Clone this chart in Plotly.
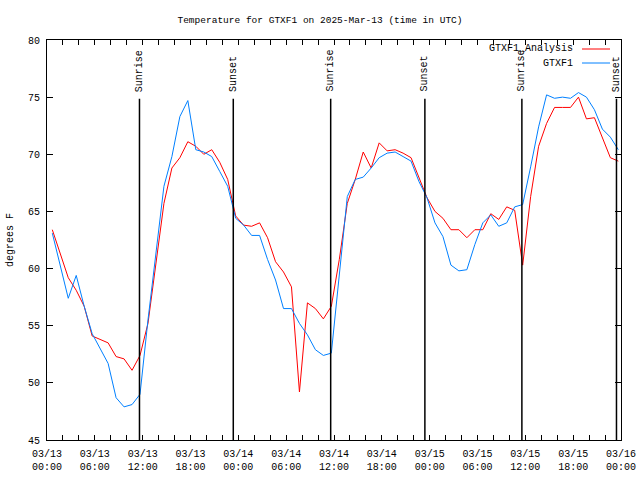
import plotly.graph_objects as go
import pandas as pd

# ---- data (hourly observations) ----
start_time = "2025-03-13 00:40"
analysis_f = [63.4, 61.2, 59.2, 58.1, 56.7, 54.1, 53.8, 53.5, 52.3, 52.1, 51.1, 52.4,
              55.2, 60.5, 65.7, 68.8, 69.7, 71.1, 70.7, 70.0, 70.4, 69.3, 67.8, 64.6,
              63.8, 63.7, 64.0, 62.7, 60.6, 59.7, 58.4, 49.2, 57.0, 56.5, 55.6, 56.7,
              60.8, 65.7, 67.8, 70.2, 68.8, 71.0, 70.3, 70.4, 70.1, 69.7, 67.9, 66.2,
              65.0, 64.4, 63.4, 63.4, 62.7, 63.4, 63.4, 64.8, 64.3, 65.4, 65.1, 60.3,
              66.3, 70.7, 72.7, 74.1, 74.1, 74.1, 75.0, 73.1, 73.2, 71.5, 69.7, 69.4]
observed_f = [63.1, 60.3, 57.4, 59.4, 56.7, 54.3, 53.0, 51.7, 48.7, 47.9, 48.1, 49.0,
              55.5, 61.6, 67.2, 69.8, 73.3, 74.7, 70.4, 70.2, 69.8, 68.5, 67.2, 64.4,
              63.8, 62.9, 62.9, 60.8, 59.0, 56.5, 56.5, 55.2, 54.2, 52.9, 52.4, 52.6,
              59.7, 66.3, 67.8, 68.0, 68.8, 69.7, 70.1, 70.2, 69.8, 69.4, 67.6, 66.2,
              64.0, 62.8, 60.3, 59.8, 59.9, 62.1, 64.0, 64.7, 63.7, 64.0, 65.4, 65.6,
              68.9, 72.4, 75.2, 74.9, 75.0, 74.9, 75.4, 75.0, 73.9, 72.2, 71.5, 70.4]
series_names = ["GTXF1_Analysis", "GTXF1"]
series_colors = ["#ff0000", "#0080ff"]

sun_events = ["Sunrise", "Sunset", "Sunrise", "Sunset", "Sunrise", "Sunset"]
sun_times = ["2025-03-13 11:36", "2025-03-13 23:22", "2025-03-14 11:35",
             "2025-03-14 23:24", "2025-03-15 11:34", "2025-03-15 23:26"]

x_range = ["2025-03-13 00:00", "2025-03-16 00:00"]
y_range = [45, 80]

times = pd.date_range(start_time, periods=len(observed_f), freq="h")

FONT = "Liberation Mono"
FS = 10
L, R, T, B = 47, 19, 40, 40
PW, PH = 640 - L - R, 480 - T - B


def px_x(p):
    return (p - L) / PW


def px_y(p):
    return 1 - (p - T) / PH


fig = go.Figure()
for name, vals, col in zip(series_names, [analysis_f, observed_f], series_colors):
    fig.add_trace(go.Scatter(x=times, y=vals, mode="lines", name=name,
                             line=dict(color=col, width=1), showlegend=False))

# sunrise / sunset markers
for ev, t in zip(sun_events, sun_times):
    fig.add_shape(type="line", xref="x", yref="y", x0=t, x1=t, y0=y_range[0], y1=74.85,
                  line=dict(color="black", width=1.5))
    fig.add_annotation(x=t, y=75.3, xref="x", yref="y", text=ev, textangle=-90,
                       showarrow=False, yanchor="bottom", xanchor="center",
                       font=dict(family=FONT, size=FS, color="black"))

# legend (text right-aligned, sample line to the right)
for i, (name, col) in enumerate(zip(series_names, series_colors)):
    yp = px_y(49 + i * 14)
    fig.add_annotation(x=px_x(575), y=yp, xref="paper", yref="paper", text=name,
                       showarrow=False, xanchor="right", yanchor="middle",
                       font=dict(family=FONT, size=FS, color="black"))
    fig.add_shape(type="line", xref="paper", yref="paper",
                  x0=px_x(582), x1=px_x(610), y0=yp, y1=yp,
                  line=dict(color=col, width=1))

# y axis label
fig.add_annotation(x=px_x(10), y=px_y(240), xref="paper", yref="paper",
                   text="degrees F", textangle=-90, showarrow=False,
                   xanchor="center", yanchor="middle",
                   font=dict(family=FONT, size=FS, color="black"))

fig.update_layout(
    width=640, height=480,
    margin=dict(l=L, r=R, t=T, b=B),
    paper_bgcolor="white", plot_bgcolor="white",
    font=dict(family=FONT, size=FS, color="black"),
    title=dict(text="Temperature for GTXF1 on 2025-Mar-13 (time in UTC)",
               x=0.5, xref="container", y=1 - 20 / 480, yanchor="middle",
               font=dict(family=FONT, size=9.5)),
    xaxis=dict(range=x_range, type="date", dtick=6 * 3600 * 1000,
               tick0="2025-03-13 00:00", tickformat="%m/%d<br>%H:%M",
               ticks="inside", ticklen=5, tickcolor="black",
               minor=dict(dtick=2 * 3600 * 1000, ticks="inside", ticklen=5, tickcolor="black"),
               showline=True, linecolor="black", linewidth=1, mirror="allticks",
               showgrid=False, zeroline=False, ticklabelstandoff=4, automargin=False),
    yaxis=dict(range=y_range, dtick=5, ticks="inside", ticklen=6, tickcolor="black",
               showline=True, linecolor="black", linewidth=1, mirror="allticks",
               showgrid=False, zeroline=False, ticklabelstandoff=4, automargin=False),
)

fig.write_html("out.html", config={"displayModeBar": False},
               post_script="document.body.style.margin='0';document.body.style.padding='0';")
